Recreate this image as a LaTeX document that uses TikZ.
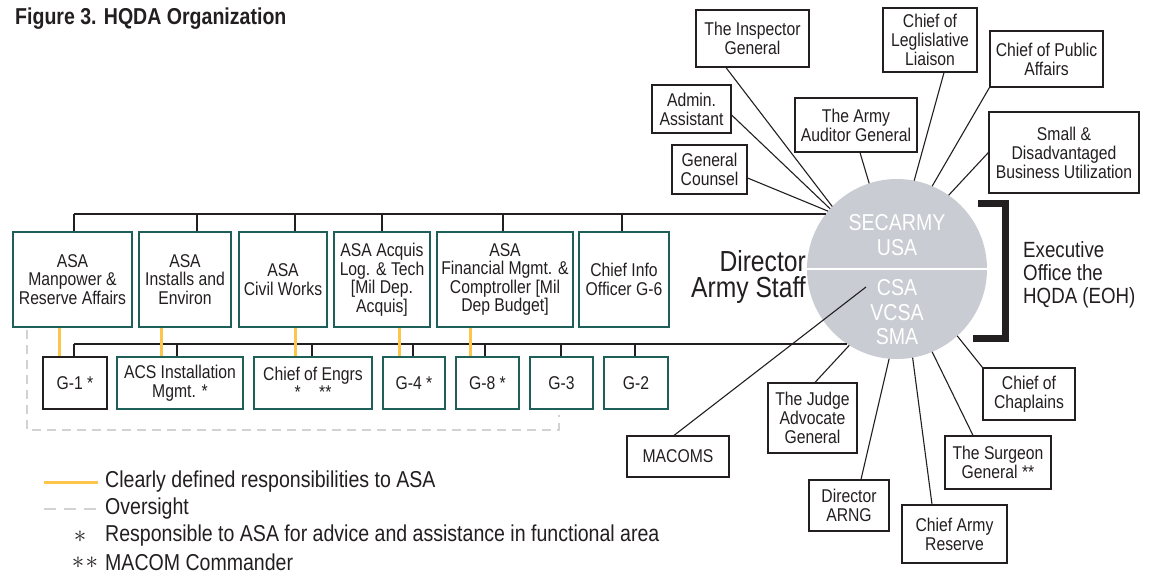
\documentclass[tikz,border=0pt]{standalone}
\usepackage{fontspec}
\setmainfont{Liberation Sans}[FakeStretch=0.85]
\newcommand\myfs[2]{\fontsize{#1}{#2}\selectfont}
\definecolor{ink}{HTML}{231F20}
\definecolor{tealc}{HTML}{1E5F5A}
\definecolor{yel}{HTML}{FDC54A}
\definecolor{ovgray}{HTML}{D2D2D2}
\definecolor{circfill}{HTML}{C9CCD2}
\begin{document}
\begin{tikzpicture}[x=1pt,y=-1pt,
  bx/.style={draw=ink, line width=1.2pt, text=ink, align=center, inner sep=0pt, font={\myfs{18.5}{19}}},
  tbx/.style={bx, draw=tealc, font={\myfs{18.5}{18.5}}},
  conn/.style={draw=ink, line width=1.1pt},
  yl/.style={draw=yel, line width=3pt},
  ov/.style={draw=ovgray, line width=2.5pt, dash pattern=on 9pt off 6pt},
  lgtext/.style={anchor=west, text=ink, font={\myfs{23}{24}}, inner sep=0pt}]
\fill[white] (0,0) rectangle (1149,579);
\useasboundingbox (0,0) rectangle (1149,579);

% title
\node[anchor=west, inner sep=0pt, text=ink, font={\myfs{23}{24}\bfseries}] (title) at (15,19) {Figure 3. HQDA Organization};

% central circle
\node[circle, fill=circfill, minimum size=180pt, inner sep=0pt, outer sep=0pt] (circ) at (897,269) {};
\draw[white, line width=2.5pt] (circ.west) -- (circ.east);
\node[text=white, align=center, inner sep=0pt, font={\myfs{23}{25.5}}] (sec) at (897,235) {SECARMY\\USA};
\node[text=white, align=center, inner sep=0pt, font={\myfs{23}{24.5}}] (csa) at (897,312.5) {CSA\\VCSA\\SMA};

% bracket
\coordinate (br1) at (978,203.5);
\coordinate (br2) at (1005.5,203.5);
\coordinate (br3) at (1005.5,338);
\coordinate (br4) at (973,338);
\draw[ink, line width=7pt] (br1) -- (br2) -- (br3) -- (br4);
\node[anchor=west, align=left, inner sep=0pt, text=ink, font={\myfs{22}{23}}] (eoh) at (1023,275) {Executive\\Office the\\HQDA (EOH)};
\node[anchor=east, align=right, inner sep=0pt, text=ink, font={\myfs{29}{26.5}}] (das) at (806,277) {Director\\Army Staff};

% upper right boxes
\node[bx, minimum width=113pt, minimum height=57pt] (insp) at (752.5,38.5) {The Inspector\\General};
\node[bx, minimum width=79pt, minimum height=48pt] (admin) at (691.5,109) {Admin.\\Assistant};
\node[bx, minimum width=75pt, minimum height=49pt] (gc) at (709.5,169.5) {General\\Counsel};
\node[bx, minimum width=122pt, minimum height=54pt] (aud) at (856,125) {The Army\\Auditor General};
\node[bx, minimum width=94pt, minimum height=64pt] (leg) at (930,40) {Chief of\\Leglislative\\Liaison};
\node[bx, minimum width=113pt, minimum height=56pt] (pub) at (1046.5,59) {Chief of Public\\Affairs};
\node[bx, minimum width=150pt, minimum height=81pt] (small) at (1064,152.5) {Small \&\\Disadvantaged\\Business Utilization};

\draw[conn] ([xshift=-26.5pt]insp.south) -- (circ.136);
\draw[conn] ([yshift=-6pt]admin.east) -- (circ.138);
\draw[conn] ([yshift=-8.5pt]gc.east) -- (circ.140);
\draw[conn] ([xshift=4pt]aud.south) -- (circ.108);
\draw[conn] ([xshift=14pt]leg.south) -- (circ.79);
\draw[conn] (pub.south west) -- (circ.67);
\draw[conn] (small.west) -- (circ.55);

% lower right boxes
\node[bx, minimum width=102pt, minimum height=41pt] (macoms) at (678,456.5) {MACOMS};
\node[bx, minimum width=89pt, minimum height=70pt] (judge) at (812.5,418) {The Judge\\Advocate\\General};
\node[bx, minimum width=80pt, minimum height=51pt] (arng) at (849,505.5) {Director\\ARNG};
\node[bx, minimum width=105pt, minimum height=58pt] (reserve) at (954.5,534) {Chief Army\\Reserve};
\node[bx, minimum width=106pt, minimum height=53pt] (surgeon) at (998,462.5) {The Surgeon\\General **};
\node[bx, minimum width=92pt, minimum height=52pt] (chap) at (1029,394) {Chief of\\Chaplains};

\coordinate (macEnd) at (866,287);
\draw[conn] ([xshift=-4pt]macoms.north) -- (macEnd);
\draw[conn] ([xshift=2.5pt]judge.north) -- (circ.238);
\draw[conn] ([xshift=12pt]arng.north) -- (circ.265);
\draw[conn] ([xshift=-22.5pt]reserve.north) -- (circ.280);
\draw[conn] ([xshift=-25pt]surgeon.north) -- (circ.293);
\draw[conn] (chap.north west) -- (circ.312);

% ASA boxes
\node[tbx, minimum width=119pt, minimum height=95pt] (asa1) at (72.5,279.5) {ASA\\Manpower \&\\Reserve Affairs};
\node[tbx, minimum width=92pt, minimum height=95pt] (asa2) at (185,279.5) {ASA\\Installs and\\Environ};
\node[tbx, minimum width=88pt, minimum height=95pt] (asa3) at (283,279.5) {ASA\\Civil Works};
\node[tbx, minimum width=96pt, minimum height=95pt] (asa4) at (382,279.5) {ASA Acquis\\Log. \& Tech\\{[}Mil Dep.\\Acquis]};
\node[tbx, minimum width=136pt, minimum height=95pt] (asa5) at (505,279.5) {ASA\\Financial Mgmt. \&\\Comptroller [Mil\\Dep Budget]};
\node[tbx, minimum width=90pt, minimum height=95pt] (cio) at (624,279.5) {Chief Info\\Officer G-6};

% G boxes
\node[bx, minimum width=64pt, minimum height=52pt] (g1) at (75,383) {G-1 *};
\node[tbx, minimum width=126pt, minimum height=52pt] (acs) at (180,383) {ACS Installation\\Mgmt. *};
\node[tbx, minimum width=118pt, minimum height=52pt] (eng) at (313,383) {Chief of Engrs\\{}*\enspace\enspace**};
\node[tbx, minimum width=62pt, minimum height=52pt] (g4) at (414,383) {G-4 *};
\node[tbx, minimum width=63pt, minimum height=52pt] (g8) at (487.5,383) {G-8 *};
\node[tbx, minimum width=63pt, minimum height=52pt] (g3) at (561.5,383) {G-3};
\node[tbx, minimum width=64pt, minimum height=52pt] (g2) at (636,383) {G-2};

% top bus
\coordinate (tb0) at (74,214);
\coordinate (ts2) at (197,214);
\coordinate (ts3) at (295,214);
\coordinate (ts4) at (382,214);
\coordinate (ts5) at (503,214);
\coordinate (ts6) at (622,214);
\draw[conn] (tb0) -- (tb0 -| circ.142);
\draw[conn] (tb0) -- (asa1.north -| tb0);
\draw[conn] (ts2) -- (asa2.north -| ts2);
\draw[conn] (ts3) -- (asa3.north -| ts3);
\draw[conn] (ts4) -- (asa4.north -| ts4);
\draw[conn] (ts5) -- (asa5.north -| ts5);
\draw[conn] (ts6) -- (cio.north -| ts6);

% bottom bus
\coordinate (bb0) at (74,344);
\coordinate (bs2) at (177,344);
\coordinate (bs3) at (312,344);
\coordinate (bs4) at (413,344);
\coordinate (bs5) at (485,344);
\coordinate (bs6) at (561,344);
\coordinate (bs7) at (635,344);
\draw[conn] (bb0) -- (bb0 -| circ.236);
\draw[conn] (bb0) -- (g1.north -| bb0);
\draw[conn] (bs2) -- (acs.north -| bs2);
\draw[conn] (bs3) -- (eng.north -| bs3);
\draw[conn] (bs4) -- (g4.north -| bs4);
\draw[conn] (bs5) -- (g8.north -| bs5);
\draw[conn] (bs6) -- (g3.north -| bs6);
\draw[conn] (bs7) -- (g2.north -| bs7);

% yellow responsibilities
\coordinate (yx1) at (59,330);
\coordinate (yx2) at (161,330);
\coordinate (yx3) at (295,330);
\coordinate (yx4) at (399,330);
\coordinate (yx5) at (470,330);
\draw[yl] (asa1.south -| yx1) -- (g1.north -| yx1);
\draw[yl] (asa2.south -| yx2) -- (acs.north -| yx2);
\draw[yl] (asa3.south -| yx3) -- (eng.north -| yx3);
\draw[yl] (asa4.south -| yx4) -- (g4.north -| yx4);
\draw[yl] (asa5.south -| yx5) -- (g8.north -| yx5);

% oversight
\coordinate (ov1) at (27,330);
\coordinate (ov2) at (27,430);
\coordinate (ov3) at (559,430);
\coordinate (ov4) at (559,415);
\draw[ov] (ov1) -- (ov2) -- (ov3) -- (ov4);

% legend
\coordinate (lg1a) at (44,482);
\coordinate (lg1b) at (98,482);
\coordinate (lg2a) at (44,509);
\coordinate (lg2b) at (98,509);
\draw[yl] (lg1a) -- (lg1b);
\draw[ov, dash pattern=on 12pt off 8pt] (lg2a) -- (lg2b);
\node[lgtext] (lt1) at (105,482) {Clearly defined responsibilities to ASA};
\node[lgtext] (lt2) at (105,509) {Oversight};
\node[text=ink, inner sep=0pt, font={\myfs{25}{25}}] (ls1) at (80,537) {$\ast$};
\node[text=ink, inner sep=0pt, font={\myfs{25}{25}}] (ls2) at (85,563) {$\ast\mskip1mu\ast$};
\node[lgtext] (lt3) at (105,536) {Responsible to ASA for advice and assistance in functional area};
\node[lgtext] (lt4) at (105,562) {MACOM Commander};
\end{tikzpicture}
\end{document}
